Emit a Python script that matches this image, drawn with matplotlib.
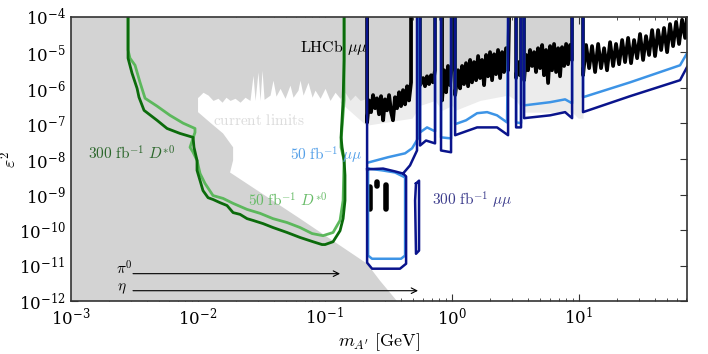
import numpy as np
import matplotlib
matplotlib.use("Agg")
import matplotlib.pyplot as plt
from matplotlib.ticker import LogLocator, NullLocator

nan = np.nan

# everything below is log10(m_A' / GeV) and log10(eps^2)
# gray "current limits": lower-left excluded region (closed polygon)
low_log_m = [-3.0, -1.996, -1.996, -1.902, -1.799, -1.720, -1.720, -1.744, -1.193, -0.665, -0.563, -0.430, -3.0]
low_log_eps = [-4.0, -4.0, -6.68, -6.97, -7.28, -7.67, -8.04, -8.38, -9.68, -10.95, -11.43, -12.0, -12.0]

# gray "current limits": upper jagged edge between 10 MeV and 0.2 GeV
jag_log_m = [-2.05, -1.996, -1.957, -1.917, -1.878, -1.839, -1.807, -1.776, -1.744, -1.705, -1.665,
             -1.626, -1.587, -1.563, -1.547, -1.524, -1.508, -1.492, -1.476, -1.429, -1.406,
             -1.382, -1.350, -1.311, -1.272, -1.248, -1.209, -1.193, -1.169, -1.130, -1.098,
             -1.075, -1.035, -0.996, -0.957, -0.917, -0.878, -0.839, -0.799, -0.760, -0.720, -0.665]
jag_log_eps = [-6.26, -6.26, -6.12, -6.20, -6.35, -6.29, -6.40, -6.26, -6.35, -6.29, -6.40,
               -6.26, -6.35, -5.64, -6.35, -5.55, -6.35, -5.50, -6.32, -6.20, -5.78,
               -6.23, -6.01, -6.29, -5.92, -6.26, -6.06, -5.78, -6.20, -5.84, -6.26,
               -6.06, -6.29, -6.01, -6.35, -6.12, -6.29, -6.12, -6.35, -6.20, -6.35, -6.29]

# light gray fringe under the LHCb curve
fringe_log_m = [-0.878, -0.673, -0.311, -0.248, -0.130, -0.075, 0.004, 0.028, 0.224, 0.445,
                0.508, 0.571, 0.776, 0.949, 0.996, 1.035]
fringe_log_eps = [-6.40, -7.05, -6.85, -6.49, -6.35, -6.63, -6.49, -6.63, -6.35, -6.20,
                  -6.35, -6.68, -6.68, -6.68, -6.85, -6.85]

# LHCb mu mu, below 10 GeV (segments split at the resonance vetoes)
lhcb_log_m = [-0.665, -0.665, -0.650, -0.634, -0.618, -0.602, -0.587, -0.571, -0.555, -0.539,
              -0.524, -0.508, -0.492, -0.476, -0.461, -0.445, -0.429, -0.413, -0.398, -0.382,
              -0.366, -0.350, -0.335, -0.319, -0.319, nan,
              -0.248, -0.248, -0.224, -0.209, -0.193, -0.177, -0.161, -0.146, -0.130, -0.130, nan,
              -0.075, -0.075, -0.059, -0.043, -0.028, -0.012, 0.004, 0.004, nan,
              0.028, 0.028, 0.051, 0.067, 0.083, 0.098, 0.114, 0.130, 0.146, 0.161,
              0.177, 0.193, 0.209, 0.224, 0.240, 0.256, 0.272, 0.287, 0.303, 0.319,
              0.335, 0.350, 0.366, 0.382, 0.398, 0.413, 0.429, 0.445, 0.453, nan,
              0.508, 0.508, 0.524, 0.539, 0.547, 0.547, nan,
              0.571, 0.571, 0.587, 0.602, 0.618, 0.634, 0.650, 0.665, 0.681, 0.697,
              0.713, 0.728, 0.744, 0.760, 0.776, 0.791, 0.807, 0.823, 0.839, 0.854,
              0.870, 0.886, 0.902, 0.917, 0.933, 0.949, 0.949]
lhcb_log_eps = [-4.0, -6.97, -6.35, -6.68, -6.20, -6.57, -6.29, -6.74, -6.23, -6.91,
                -6.32, -6.63, -6.20, -6.68, -6.91, -6.26, -6.57, -6.12, -6.51, -6.06,
                -6.46, -5.95, -6.35, -5.84, -4.0, nan,
                -4.0, -5.92, -5.72, -5.95, -5.67, -5.89, -5.64, -5.84, -5.50, -4.0, nan,
                -4.0, -6.35, -5.50, -6.12, -5.38, -5.92, -5.27, -4.0, nan,
                -4.0, -6.20, -5.50, -6.01, -5.38, -5.89, -5.30, -5.95, -5.21, -5.84,
                -5.27, -5.78, -5.10, -5.72, -5.21, -5.92, -5.07, -5.67, -4.99, -5.78,
                -5.05, -5.61, -4.93, -5.72, -4.99, -5.55, -4.88, -5.50, -4.0, nan,
                -4.0, -5.72, -5.27, -5.64, -5.21, -4.0, nan,
                -4.0, -5.78, -5.07, -5.50, -4.93, -5.38, -4.99, -5.55, -4.88, -5.44,
                -4.79, -5.64, -4.93, -5.86, -4.82, -5.50, -4.76, -5.55, -4.88, -5.67,
                -4.85, -5.38, -4.76, -5.33, -4.79, -5.21, -4.0]

# LHCb mu mu, above the Upsilon veto
ups_log_m = [1.035, 1.035, 1.059, 1.083, 1.106, 1.130, 1.154, 1.177, 1.201, 1.224,
             1.248, 1.272, 1.295, 1.319, 1.343, 1.366, 1.390, 1.413, 1.437, 1.461,
             1.484, 1.508, 1.531, 1.555, 1.579, 1.602, 1.626, 1.650, 1.673, 1.697,
             1.720, 1.744, 1.768, 1.791, 1.815, 1.839, 1.854]
ups_log_eps = [-4.0, -5.64, -4.79, -5.44, -4.82, -5.55, -4.76, -5.44, -4.88, -5.50,
               -4.71, -5.38, -4.76, -5.33, -4.65, -5.27, -4.59, -5.30, -4.65, -5.16,
               -4.48, -5.21, -4.54, -5.07, -4.37, -5.10, -4.37, -4.93, -4.31, -4.99,
               -4.20, -4.82, -4.14, -4.76, -4.08, -4.59, -4.0]

# displaced islands (black)
blob_log_m = [-0.642, -0.642, nan, -0.520, -0.520, nan, -0.589, -0.589]
blob_log_eps = [-8.80, -9.40, nan, -8.72, -9.40, nan, -8.66, -8.77]

# D*0 reach
dstar300_log_m = [-2.547, -2.547, -2.516, -2.476, -2.461, -2.421, -2.319, -2.240, -2.138, -2.035,
                  -2.028, -2.004, -2.004, -1.980, -1.957, -1.917, -1.878, -1.823, -1.768, -1.720,
                  -1.665, -1.610, -1.563, -1.484, -1.406, -1.295, -1.193, -1.091, -1.020, -0.996,
                  -0.933, -0.878, -0.854, -0.839, -0.839, -0.846, -0.862, -0.870, -0.854, -0.846, -0.846]
dstar300_log_eps = [-4.0, -5.16, -5.58, -6.01, -6.26, -6.63, -6.91, -7.14, -7.28, -7.39,
                    -7.67, -8.04, -8.32, -8.61, -8.89, -9.09, -9.14, -9.23, -9.31, -9.51,
                    -9.56, -9.68, -9.73, -9.82, -9.93, -10.07, -10.21, -10.33, -10.41, -10.41,
                    -10.33, -10.02, -9.68, -9.17, -8.46, -8.04, -7.67, -7.39, -6.35, -5.21, -4.0]
dstar50_log_m = [-2.547, -2.547, -2.532, -2.492, -2.453, -2.413, -2.319, -2.217, -2.114, -2.020,
                 -2.020, -2.059, -2.035, -2.004, -1.980, -1.941, -1.878, -1.799, -1.720, -1.610,
                 -1.508, -1.406, -1.295, -1.193, -1.098, -1.012, -0.933, -0.878, -0.854, -0.846,
                 -0.870, -0.870, -0.846, -0.846]
dstar50_log_eps = [-4.0, -4.93, -5.16, -5.36, -5.84, -6.29, -6.51, -6.77, -6.99, -7.14,
                   -7.25, -7.67, -7.81, -8.04, -8.41, -8.69, -9.03, -9.11, -9.25, -9.42,
                   -9.53, -9.68, -9.79, -9.93, -10.10, -10.16, -10.07, -9.73, -9.17, -8.04,
                   -7.67, -7.48, -6.35, -4.0]

# mu mu reach, 300 fb^-1
mm300_log_m = [-0.665, -0.665, -0.626, -0.406, -0.358, -0.358, -0.382, nan,
               -0.665, -0.539, -0.445, -0.382, -0.327, -0.272, -0.272, nan,
               -0.248, -0.248, -0.201, -0.130, -0.130, nan,
               -0.083, -0.083, -0.004, -0.004, nan,
               0.028, 0.028, 0.114, 0.201, 0.358, 0.445, 0.445, nan,
               0.508, 0.508, 0.547, 0.547, nan,
               0.571, 0.571, 0.776, 0.894, 0.949, 0.949, nan,
               1.035, 1.035, 1.406, 1.799, 1.854, nan,
               -0.280, -0.256, -0.256, -0.280, -0.287, -0.280]
mm300_log_eps = [-4.0, -10.92, -11.09, -11.09, -10.95, -8.49, -8.41, nan,
                 -8.29, -8.27, -8.35, -8.41, -8.18, -7.76, -4.0, nan,
                 -4.0, -7.62, -7.48, -7.56, -4.0, nan,
                 -4.0, -7.76, -7.81, -4.0, nan,
                 -4.0, -7.33, -7.22, -7.11, -7.11, -7.33, -4.0, nan,
                 -4.0, -7.11, -7.11, -4.0, nan,
                 -4.0, -6.85, -6.77, -6.68, -6.85, -4.0, nan,
                 -4.0, -6.68, -6.23, -5.78, -5.41, nan,
                 -8.69, -8.61, -10.58, -10.67, -9.17, -8.69]

# mu mu reach, 50 fb^-1
mm50_log_m = [-0.657, -0.500, -0.366, -0.311, -0.264, -0.264, nan,
              -0.657, -0.547, -0.445, -0.366, -0.366, -0.398, -0.626, -0.657, -0.657, nan,
              -0.248, -0.248, -0.193, -0.130, -0.130, nan,
              -0.083, -0.083, -0.004, -0.004, nan,
              0.028, 0.028, 0.114, 0.201, 0.280, 0.358, 0.437, 0.445, nan,
              0.508, 0.508, 0.547, 0.547, nan,
              0.571, 0.571, 0.776, 0.894, 0.949, 0.949, nan,
              1.035, 1.035, 1.406, 1.799, 1.854]
mm50_log_eps = [-8.10, -7.95, -7.84, -7.70, -7.42, -4.0, nan,
                -8.27, -8.32, -8.38, -8.52, -10.72, -10.81, -10.81, -10.72, -8.27, nan,
                -4.0, -7.25, -7.11, -7.22, -4.0, nan,
                -4.0, -7.39, -7.42, -4.0, nan,
                -4.0, -7.02, -6.91, -6.71, -6.68, -6.77, -6.97, -4.0, nan,
                -4.0, -6.97, -6.99, -4.0, nan,
                -4.0, -6.49, -6.40, -6.32, -6.43, -4.0, nan,
                -4.0, -6.26, -5.84, -5.36, -5.02]

# meson arrows: start, pi0 end, eta end (log10 GeV) and their heights
arrow_start = -2.508
pi0_end = -0.878
eta_end = -0.264
pi0_level = -11.23
eta_level = -11.71


def ten(v):
    return 10.0 ** np.asarray(v, dtype=float)


def main():
    plt.rcParams["mathtext.fontset"] = "cm"
    plt.rcParams["font.family"] = "serif"
    plt.rcParams["font.serif"] = ["DejaVu Serif"]

    fig = plt.figure(figsize=(7.08, 3.54), dpi=100)
    ax = fig.add_axes([0.0996, 0.1497, 0.8708, 0.8023])
    ax.set_xscale("log")
    ax.set_yscale("log")

    gray = "#d3d3d3"
    ax.fill_between(ten(fringe_log_m), ten(fringe_log_eps), 1e-4, color="#ececec", lw=0, zorder=1)
    ax.fill(ten(low_log_m), ten(low_log_eps), color=gray, lw=0, zorder=2)
    ax.fill_between(ten(jag_log_m), ten(jag_log_eps), 1e-4, color=gray, lw=0, zorder=2)
    ax.fill_between(ten(lhcb_log_m), ten(lhcb_log_eps), 1e-4, color=gray, lw=0, zorder=2)

    ax.plot(ten(dstar50_log_m), ten(dstar50_log_eps), color="#5cb85c", lw=2.0, zorder=3)
    ax.plot(ten(dstar300_log_m), ten(dstar300_log_eps), color="#0b6b0b", lw=2.0, zorder=4)

    ax.plot(ten(lhcb_log_m), ten(lhcb_log_eps), color="black", lw=2.7, zorder=5)
    ax.plot(ten(ups_log_m), ten(ups_log_eps), color="black", lw=2.7, zorder=5)
    ax.plot(ten(blob_log_m), ten(blob_log_eps), color="black", lw=4.0,
            solid_capstyle="round", zorder=5)

    ax.plot(ten(mm50_log_m), ten(mm50_log_eps), color="#3d94e6", lw=1.8, zorder=6)
    ax.plot(ten(mm300_log_m), ten(mm300_log_eps), color="#0a148c", lw=1.8, zorder=7)

    for end, level in ((pi0_end, pi0_level), (eta_end, eta_level)):
        ax.annotate("", xy=(10 ** end, 10 ** level), xytext=(10 ** arrow_start, 10 ** level),
                    arrowprops=dict(arrowstyle="->", color="black", lw=0.8,
                                    shrinkA=0, shrinkB=0), zorder=8)
    ax.text(10 ** -2.58, 10 ** -11.09, r"$\pi^0$", fontsize=11, ha="center", va="center")
    ax.text(10 ** -2.60, 10 ** -11.66, r"$\eta$", fontsize=11, ha="center", va="center")

    ax.text(10 ** -1.193, 10 ** -4.85, r"$\mathrm{LHCb}\ \mu\mu$", fontsize=11.5,
            ha="left", va="center", zorder=9)
    ax.text(10 ** -1.878, 10 ** -6.91, r"$\mathrm{current\ limits}$", fontsize=11,
            color="#dcdcdc", ha="left", va="center", zorder=9)
    ax.text(10 ** -2.862, 10 ** -7.84, r"$300\ \mathrm{fb}^{-1}\ D^{*0}$", fontsize=11,
            color="#2a662a", ha="left", va="center", zorder=9)
    ax.text(10 ** -1.602, 10 ** -9.17, r"$50\ \mathrm{fb}^{-1}\ D^{*0}$", fontsize=11,
            color="#66bb66", ha="left", va="center", zorder=9)
    ax.text(10 ** -1.272, 10 ** -7.90, r"$50\ \mathrm{fb}^{-1}\ \mu\mu$", fontsize=11,
            color="#55a0e8", ha="left", va="center", zorder=9)
    ax.text(10 ** -0.154, 10 ** -9.17, r"$300\ \mathrm{fb}^{-1}\ \mu\mu$", fontsize=11,
            color="#3c3c8c", ha="left", va="center", zorder=9)

    ax.set_xlim(1e-3, 10 ** 1.854)
    ax.set_ylim(1e-12, 1e-4)
    ax.xaxis.set_major_locator(LogLocator(base=10, numticks=10))
    ax.xaxis.set_minor_locator(LogLocator(base=10, subs=np.arange(2, 10), numticks=20))
    ax.yaxis.set_major_locator(LogLocator(base=10, numticks=12))
    ax.yaxis.set_minor_locator(NullLocator())
    ax.tick_params(which="both", direction="in", top=True, right=True, colors="#333333",
                   labelcolor="black", labelsize=12)
    ax.tick_params(which="major", length=5)
    ax.tick_params(which="minor", length=2.5)
    ax.tick_params(axis="x", pad=4)
    for s in ax.spines.values():
        s.set_color("#333333")
        s.set_linewidth(1.2)
        s.set_zorder(10)

    ax.set_xlabel(r"$m_{A^\prime}\ [\mathrm{GeV}]$", fontsize=13, labelpad=2)
    ax.set_ylabel(r"$\varepsilon^2$", fontsize=13)
    ax.yaxis.set_label_coords(-0.082, 0.5)

    plt.savefig("out.png", dpi=100)
    plt.close()


if __name__ == "__main__":
    main()
